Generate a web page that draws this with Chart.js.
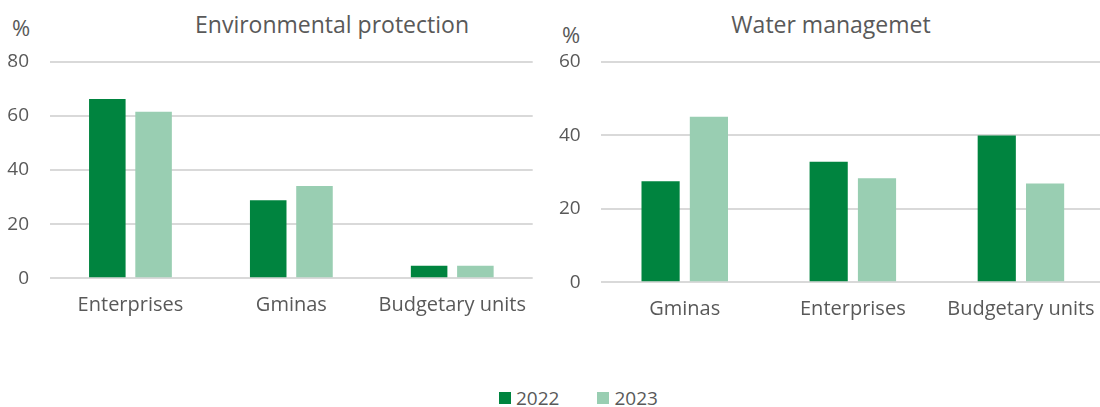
<!DOCTYPE html>
<html lang="en">

<head>
  <meta charset="UTF-8">
  <title>Environmental protection and water management</title>
  <script src="https://cdn.jsdelivr.net/npm/chart.js"></script>
  <style>
    html, body {
      margin: 0;
      padding: 0;
      background: #ffffff;
      width: 1100px;
      height: 407px;
      overflow: hidden;
      font-family: 'Open Sans', sans-serif;
      color: #595959;
    }

    .panel {
      position: absolute;
      top: 0;
    }

    .title {
      position: absolute;
      top: 8px;
      font-size: 23px;
      white-space: nowrap;
      transform: translateX(-50%);
    }

    .unit {
      position: absolute;
      font-size: 22px;
    }

    .legend {
      position: absolute;
      top: 385px;
      left: 499px;
      font-size: 19px;
      display: flex;
      align-items: center;
    }

    .legend span.box {
      display: inline-block;
      width: 12px;
      height: 12px;
      margin-right: 5px;
    }

    .legend .item {
      display: flex;
      align-items: center;
      margin-right: 38px;
    }
  </style>
</head>

<body>
  <div class="title" style="left:332px">Environmental protection</div>
  <div class="title" style="left:831px">Water managemet</div>
  <div class="unit" style="left:12px; top:12px">%</div>
  <div class="unit" style="left:562px; top:19px">%</div>

  <canvas id="envChart" class="panel" style="left:0" width="545" height="330"></canvas>
  <canvas id="waterChart" class="panel" style="left:550px" width="560" height="330"></canvas>

  <div class="legend" id="legend"></div>

  <script>
    const years = ["2022", "2023"];
    const yearColors = ["#00843f", "#99ceb2"];

    // Environmental protection
    const envCategories = ["Enterprises", "Gminas", "Budgetary units"];
    const env2022 = [66.2, 28.8, 4.6];
    const env2023 = [61.5, 34.1, 4.6];
    const envTicks = [0, 20, 40, 60, 80];

    // Water management
    const waterCategories = ["Gminas", "Enterprises", "Budgetary units"];
    const water2022 = [27.5, 32.8, 39.9];
    const water2023 = [45.0, 28.3, 26.9];
    const waterTicks = [0, 20, 40, 60];

    const textColor = "#595959";
    const gridColor = "#d9d9d9";
    const fontFamily = "'Open Sans', sans-serif";

    function makeChart(id, labels, series, ticks, box) {
      const ctx = document.getElementById(id).getContext("2d");
      return new Chart(ctx, {
        type: "bar",
        data: {
          labels: labels,
          datasets: series.map((values, i) => ({
            label: years[i],
            data: values,
            backgroundColor: yearColors[i],
            borderWidth: 0,
            categoryPercentage: 0.575,
            barPercentage: 0.79
          }))
        },
        options: {
          responsive: false,
          animation: false,
          layout: {
            padding: { top: box.top, right: box.right, left: 0, bottom: 0 }
          },
          plugins: {
            legend: { display: false },
            tooltip: { enabled: false }
          },
          scales: {
            x: {
              grid: { display: false, drawTicks: false },
              border: { display: false },
              ticks: {
                color: textColor,
                font: { family: fontFamily, size: 20 },
                padding: 15,
                maxRotation: 0,
                autoSkip: false
              },
              afterFit: scale => { scale.height = box.xHeight; }
            },
            y: {
              min: ticks[0],
              max: ticks[ticks.length - 1],
              grid: { color: gridColor, lineWidth: 2, drawTicks: false },
              border: { display: false },
              ticks: {
                stepSize: ticks[1] - ticks[0],
                color: textColor,
                font: { family: fontFamily, size: 19 },
                padding: box.tickPad
              },
              afterFit: scale => { scale.width = box.yWidth; }
            }
          }
        }
      });
    }

    makeChart("envChart", envCategories, [env2022, env2023], envTicks,
      { top: 61.7, right: 12.3, xHeight: 51.7, yWidth: 50, tickPad: 21 });
    makeChart("waterChart", waterCategories, [water2022, water2023], waterTicks,
      { top: 61.7, right: 2.3, xHeight: 47.7, yWidth: 50.7, tickPad: 20 });

    // shared legend below both panels
    const legend = document.getElementById("legend");
    years.forEach((year, i) => {
      const item = document.createElement("div");
      item.className = "item";
      item.innerHTML = '<span class="box" style="background:' + yearColors[i] + '"></span>' + year;
      legend.appendChild(item);
    });
  </script>
</body>

</html>
